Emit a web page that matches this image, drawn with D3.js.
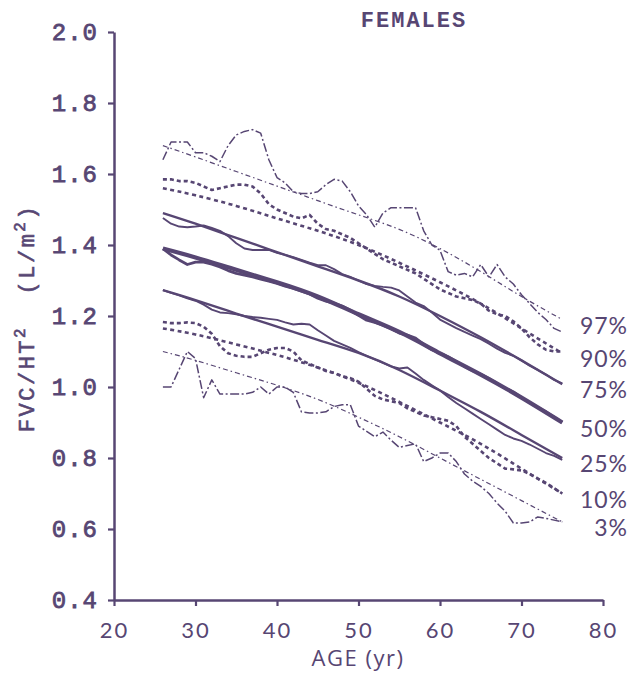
<!DOCTYPE html>
<html>
<head>
<meta charset="utf-8">
<script src="https://cdn.jsdelivr.net/npm/d3@7"></script>
<style>
    body { margin: 0; background: #fff; }
</style>
</head>
<body>
<div id="chart"></div>
<script>
// ages of the yearly (raw) percentiles
var ages = [26, 27, 28, 29, 30, 31, 32, 33, 34, 35,
    36, 37, 38, 39, 40, 41, 42, 43, 44, 45,
    46, 47, 48, 49, 50, 51, 52, 53, 54, 55,
    56, 57, 58, 59, 60, 61, 62, 63, 64, 65,
    66, 67, 68, 69, 70, 71, 72, 73, 74, 75];
// ages where the smoothed curves are read
var fitAges = [26, 30, 35, 40, 45, 50, 55, 60, 65, 70, 75];

var p97Raw = [1.64, 1.69, 1.69, 1.69, 1.66, 1.66, 1.65, 1.635, 1.68, 1.71,
    1.72, 1.725, 1.715, 1.64, 1.59, 1.575, 1.55, 1.545, 1.545, 1.55,
    1.57, 1.585, 1.58, 1.55, 1.51, 1.485, 1.45, 1.49, 1.505, 1.505,
    1.505, 1.505, 1.44, 1.40, 1.385, 1.325, 1.315, 1.32, 1.31, 1.345,
    1.31, 1.345, 1.31, 1.29, 1.26, 1.235, 1.21, 1.19, 1.165, 1.155];
var p90Raw = [1.585, 1.585, 1.58, 1.58, 1.575, 1.565, 1.555, 1.56, 1.565, 1.57,
    1.57, 1.565, 1.545, 1.515, 1.50, 1.49, 1.48, 1.475, 1.485, 1.46,
    1.445, 1.44, 1.43, 1.42, 1.405, 1.39, 1.375, 1.36, 1.35, 1.34,
    1.33, 1.32, 1.305, 1.29, 1.275, 1.265, 1.255, 1.25, 1.245, 1.235,
    1.215, 1.205, 1.20, 1.185, 1.165, 1.14, 1.12, 1.105, 1.10, 1.10];
var p75Raw = [1.476, 1.46, 1.452, 1.45, 1.452, 1.455, 1.448, 1.44, 1.425, 1.405,
    1.39, 1.386, 1.386, 1.386, 1.378, 1.372, 1.366, 1.358, 1.35, 1.343,
    1.343, 1.332, 1.318, 1.31, 1.30, 1.29, 1.285, 1.282, 1.28, 1.272,
    1.255, 1.238, 1.228, 1.21, 1.19, 1.178, 1.166, 1.155, 1.145, 1.135,
    1.122, 1.108, 1.096, 1.088, 1.075, 1.06, 1.048, 1.035, 1.02, 1.01];
var p50Raw = [1.39, 1.372, 1.358, 1.345, 1.352, 1.352, 1.346, 1.338, 1.328, 1.32,
    1.315, 1.31, 1.304, 1.298, 1.292, 1.284, 1.278, 1.27, 1.262, 1.25,
    1.242, 1.236, 1.228, 1.216, 1.202, 1.188, 1.182, 1.174, 1.164, 1.152,
    1.146, 1.138, 1.12, 1.105, 1.095, 1.085, 1.072, 1.058, 1.046, 1.036,
    1.024, 1.01, 0.996, 0.986, 0.97, 0.956, 0.942, 0.93, 0.915, 0.90];
var p25Raw = [1.273, 1.265, 1.258, 1.25, 1.243, 1.232, 1.218, 1.21, 1.208, 1.205,
    1.2, 1.197, 1.195, 1.192, 1.189, 1.182, 1.176, 1.178, 1.176, 1.16,
    1.145, 1.13, 1.12, 1.11, 1.098, 1.088, 1.078, 1.068, 1.058, 1.052,
    1.055, 1.038, 1.02, 1.005, 0.99, 0.972, 0.955, 0.94, 0.925, 0.91,
    0.895, 0.88, 0.865, 0.855, 0.848, 0.838, 0.826, 0.814, 0.806, 0.795];
var p10Raw = [1.183, 1.18, 1.18, 1.182, 1.18, 1.17, 1.15, 1.115, 1.095, 1.088,
    1.085, 1.085, 1.095, 1.105, 1.11, 1.11, 1.10, 1.075, 1.065, 1.055,
    1.045, 1.04, 1.03, 1.025, 1.015, 0.995, 0.975, 0.965, 0.96, 0.955,
    0.94, 0.93, 0.92, 0.915, 0.91, 0.905, 0.89, 0.86, 0.84, 0.82,
    0.80, 0.785, 0.77, 0.768, 0.765, 0.755, 0.742, 0.73, 0.715, 0.70];
var p3Raw = [1.0, 1.0, 1.05, 1.10, 1.08, 0.97, 1.02, 0.98, 0.98, 0.98,
    0.98, 0.985, 1.0, 0.98, 1.0, 1.0, 0.985, 0.93, 0.927, 0.927,
    0.93, 0.945, 0.95, 0.95, 0.89, 0.875, 0.86, 0.873, 0.85, 0.83,
    0.835, 0.84, 0.79, 0.80, 0.814, 0.814, 0.79, 0.755, 0.735, 0.72,
    0.70, 0.673, 0.65, 0.617, 0.617, 0.62, 0.634, 0.63, 0.625, 0.62];

var p97Fit = [1.68, 1.648, 1.607, 1.566, 1.525, 1.485, 1.444, 1.39, 1.325, 1.255, 1.19];
var p90Fit = [1.56, 1.54, 1.51, 1.475, 1.44, 1.40, 1.35, 1.295, 1.235, 1.165, 1.095];
var p75Fit = [1.49, 1.46, 1.42, 1.38, 1.34, 1.30, 1.255, 1.20, 1.14, 1.075, 1.008];
var p50Fit = [1.39, 1.365, 1.33, 1.295, 1.255, 1.205, 1.155, 1.095, 1.035, 0.97, 0.90];
var p25Fit = [1.273, 1.245, 1.207, 1.17, 1.133, 1.096, 1.048, 0.99, 0.93, 0.865, 0.80];
var p10Fit = [1.165, 1.148, 1.12, 1.09, 1.055, 1.012, 0.958, 0.90, 0.84, 0.77, 0.70];
var p3Fit = [1.10, 1.075, 1.04, 1.005, 0.965, 0.915, 0.86, 0.80, 0.74, 0.68, 0.62];

var pctLabels = ['97%', '90%', '75%', '50%', '25%', '10%', '3%'];
var xTicks = [20, 30, 40, 50, 60, 70, 80];
var yTicks = [0.4, 0.6, 0.8, 1.0, 1.2, 1.4, 1.6, 1.8, 2.0];

function drawChart(element) {
    var ink = '#574673';
    var width = 640, height = 681;

    var svg = d3.select(element).append('svg')
        .attr('width', width)
        .attr('height', height)
        .style('background', '#fff');

    var x = d3.scaleLinear().domain([20, 80]).range([114, 603]);
    var y = d3.scaleLinear().domain([0.4, 2.0]).range([600, 32]);

    // line looks per percentile: raw yearly line + smoothed curve
    var looks = {
        dashdot: {raw: [1.5, '9,2.5,2,2.5'], fit: [1.2, '5,3,1.5,3']},
        dashed: {raw: [2.6, '4,3'], fit: [2.6, '4,3.5']},
        solid: {raw: [1.9, null], fit: [2.4, null]},
        thick: {raw: [2.8, null], fit: [4.2, null]}
    };
    var series = [
        {label: pctLabels[0], raw: p97Raw, fit: p97Fit, look: 'dashdot'},
        {label: pctLabels[1], raw: p90Raw, fit: p90Fit, look: 'dashed'},
        {label: pctLabels[2], raw: p75Raw, fit: p75Fit, look: 'solid'},
        {label: pctLabels[3], raw: p50Raw, fit: p50Fit, look: 'thick'},
        {label: pctLabels[4], raw: p25Raw, fit: p25Fit, look: 'solid'},
        {label: pctLabels[5], raw: p10Raw, fit: p10Fit, look: 'dashed'},
        {label: pctLabels[6], raw: p3Raw, fit: p3Fit, look: 'dashdot'}
    ];

    var rawLine = d3.line()
        .x(function (d, i) { return x(ages[i]); })
        .y(function (d) { return y(d); });
    var fitLine = d3.line()
        .x(function (d, i) { return x(fitAges[i]); })
        .y(function (d) { return y(d); })
        .curve(d3.curveNatural);

    // axes
    var yAxis = d3.axisLeft(y).tickValues(yTicks).tickSize(6).tickSizeOuter(0)
        .tickPadding(10).tickFormat(d3.format('.1f'));
    var xAxis = d3.axisBottom(x).tickValues(xTicks).tickSize(6).tickSizeOuter(0)
        .tickPadding(16).tickFormat(d3.format('d'));

    var gy = svg.append('g').attr('transform', 'translate(' + x(20) + ',0)').call(yAxis);
    var gx = svg.append('g').attr('transform', 'translate(0,' + y(0.4) + ')').call(xAxis);

    [gx, gy].forEach(function (g) {
        g.select('.domain').attr('stroke', ink).attr('stroke-width', 2.5);
        g.selectAll('.tick line').attr('stroke', ink).attr('stroke-width', 2.2);
        g.selectAll('.tick text').attr('fill', ink);
    });
    gy.selectAll('.tick text')
        .style('font-family', '"Liberation Mono", monospace')
        .style('font-size', '24px')
        .style('letter-spacing', '1px')
        .attr('stroke', ink).attr('stroke-width', 0.8);
    gx.selectAll('.tick text')
        .style('font-family', 'Lato, sans-serif')
        .style('font-size', '22px')
        .style('letter-spacing', '2px');

    // percentile lines
    var lines = svg.append('g').attr('fill', 'none').attr('stroke', ink)
        .attr('stroke-linejoin', 'round');

    series.forEach(function (s) {
        var look = looks[s.look];
        lines.append('path')
            .attr('d', rawLine(s.raw))
            .attr('stroke-width', look.raw[0])
            .attr('stroke-dasharray', look.raw[1]);
        lines.append('path')
            .attr('d', fitLine(s.fit))
            .attr('stroke-width', look.fit[0])
            .attr('stroke-dasharray', look.fit[1]);
    });

    // percentile labels on the right
    svg.append('g').selectAll('text')
        .data(series)
        .enter()
        .append('text')
        .attr('x', 628)
        .attr('y', function (d) { return y(d.fit[d.fit.length - 1]) + 14; })
        .attr('text-anchor', 'end')
        .attr('fill', ink)
        .style('font-family', 'Lato, sans-serif')
        .style('font-size', '23px')
        .style('letter-spacing', '1px')
        .text(function (d) { return d.label; });

    // title
    svg.append('text')
        .attr('x', 414)
        .attr('y', 27)
        .attr('text-anchor', 'middle')
        .attr('fill', ink)
        .style('font-family', '"Liberation Mono", monospace')
        .style('font-size', '22px')
        .style('font-weight', 'bold')
        .style('letter-spacing', '2px')
        .text('FEMALES');

    // axis titles
    svg.append('text')
        .attr('x', 358)
        .attr('y', 666)
        .attr('text-anchor', 'middle')
        .attr('fill', ink)
        .style('font-family', '"Open Sans", sans-serif')
        .style('font-size', '22px')
        .style('letter-spacing', '1.5px')
        .text('AGE (yr)');

    var yt = svg.append('text')
        .attr('transform', 'translate(34,318) rotate(-90)')
        .attr('text-anchor', 'middle')
        .attr('fill', ink)
        .attr('stroke', ink).attr('stroke-width', 0.6)
        .style('font-family', '"Liberation Mono", monospace')
        .style('font-size', '22px')
        .style('letter-spacing', '2.5px');
    yt.append('tspan').text('FVC/HT');
    yt.append('tspan').attr('dy', -9).style('font-size', '16px').text('2');
    yt.append('tspan').attr('dy', 9).text('\u00a0\u00a0(L/m');
    yt.append('tspan').attr('dy', -9).style('font-size', '16px').text('2');
    yt.append('tspan').attr('dy', 9).text(')');
}

drawChart('#chart');
</script>
</body>
</html>
